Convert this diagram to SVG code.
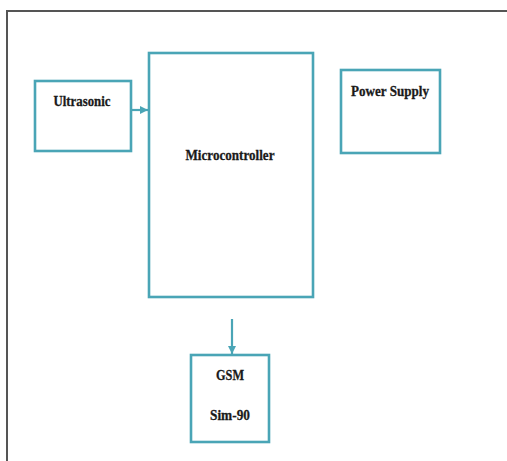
<svg xmlns="http://www.w3.org/2000/svg" width="507" height="461" viewBox="0 0 507 461">
<style>
.box{fill:#fff;stroke:#4aa5b6;stroke-width:2.6}
.lbl{font-family:"Liberation Serif","Times New Roman",serif;font-weight:bold;font-size:15px;fill:#1a1a1a;stroke:#1a1a1a;stroke-width:0.3;text-anchor:middle}
.conn{stroke:#4aa5b6;stroke-width:2.2;fill:none}
.frame{stroke:#555;stroke-width:2;fill:none}
</style>
<defs>
<marker id="ah" markerWidth="9" markerHeight="9" refX="8" refY="4.5" orient="auto" markerUnits="userSpaceOnUse">
<path d="M0,0.5 L8,4.5 L0,8.5 Z" fill="#4aa5b6"/>
</marker>
</defs>
<rect width="507" height="461" fill="#fff"/>
<path class="frame" d="M7,461 V11 H507"/>
<g id="ultrasonic">
<rect class="box" x="35" y="81" width="96" height="70"/>
<text class="lbl" x="82" y="106" textLength="57" lengthAdjust="spacingAndGlyphs">Ultrasonic</text>
</g>
<g id="microcontroller">
<rect class="box" x="149" y="53" width="164" height="244"/>
<text class="lbl" x="230" y="160" textLength="89" lengthAdjust="spacingAndGlyphs">Microcontroller</text>
</g>
<g id="power-supply">
<rect class="box" x="341" y="70" width="99" height="83"/>
<text class="lbl" x="390" y="96" textLength="78" lengthAdjust="spacingAndGlyphs">Power Supply</text>
</g>
<g id="gsm">
<rect class="box" x="191" y="355" width="78" height="87"/>
<text class="lbl" x="230" y="380" textLength="28" lengthAdjust="spacingAndGlyphs">GSM</text>
<text class="lbl" x="230" y="420" textLength="40" lengthAdjust="spacingAndGlyphs">Sim-90</text>
</g>
<g id="connectors">
<line class="conn" x1="131" y1="110" x2="148" y2="110" marker-end="url(#ah)"/>
<line class="conn" x1="232" y1="319" x2="232" y2="354" marker-end="url(#ah)"/>
</g>
</svg>
